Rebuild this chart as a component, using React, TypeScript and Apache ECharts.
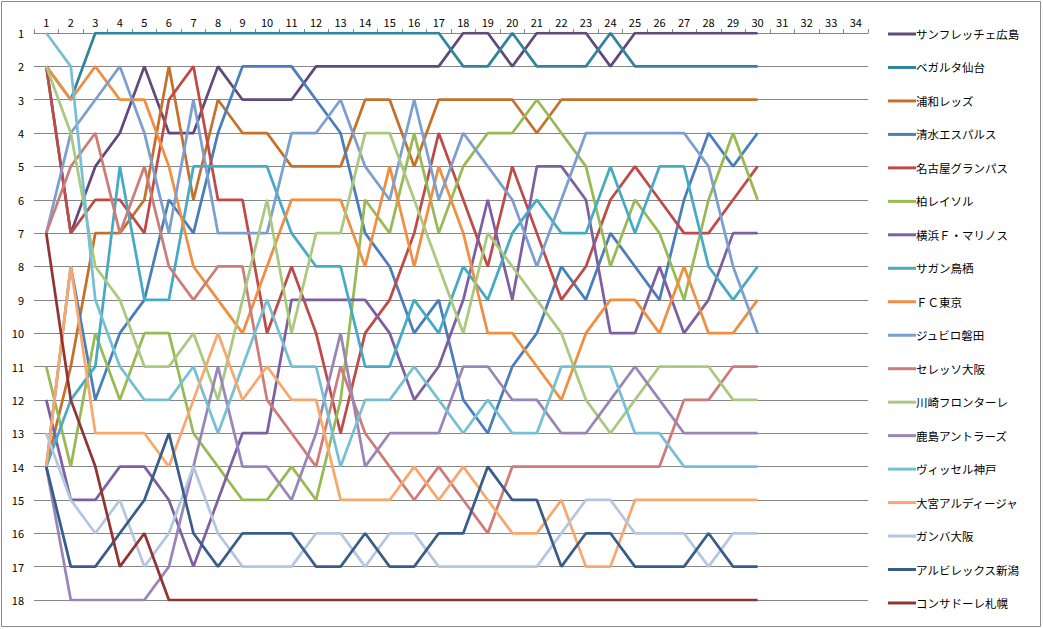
import React, { useEffect, useRef } from "react";
import * as echarts from "echarts";

const rounds = Array.from({ length: 34 }, (_, i) => String(i + 1));
const rankLabels = Array.from({ length: 18 }, (_, i) => i + 1);

const teams = [
  "サンフレッチェ広島",
  "ベガルタ仙台",
  "浦和レッズ",
  "清水エスパルス",
  "名古屋グランパス",
  "柏レイソル",
  "横浜Ｆ・マリノス",
  "サガン鳥栖",
  "ＦＣ東京",
  "ジュビロ磐田",
  "セレッソ大阪",
  "川崎フロンターレ",
  "鹿島アントラーズ",
  "ヴィッセル神戸",
  "大宮アルディージャ",
  "ガンバ大阪",
  "アルビレックス新潟",
  "コンサドーレ札幌",
];

const colors = [
  "#604A7B", "#31849B", "#C5702B", "#4A7EBB", "#BE4B48", "#98B954",
  "#7D60A0", "#46AAC5", "#F08E41", "#7C9FD0", "#CE7C79", "#AAC97E",
  "#9A86B6", "#77C0D4", "#F8A86E", "#B4C6E0", "#385D8A", "#8F3634",
];

const hiroshima = [2,7,5,4,2,4,4,2,3,3,3,2,2,2,2,2,2,1,1,2,1,1,1,2,1,1,1,1,1,1];
const sendai = [2,3,1,1,1,1,1,1,1,1,1,1,1,1,1,1,1,2,2,1,2,2,2,1,2,2,2,2,2,2];
const urawa = [14,11,7,7,6,2,6,3,4,4,5,5,5,3,3,5,3,3,3,3,4,3,3,3,3,3,3,3,3,3];
const shimizu = [14,8,12,10,9,6,7,4,2,2,2,3,4,7,8,10,9,12,13,11,10,8,9,7,8,9,6,4,5,4];
const nagoya = [2,7,6,6,7,3,2,6,6,10,8,10,13,10,9,7,4,6,8,5,7,9,8,6,5,6,7,7,6,5];
const kashiwa = [11,14,10,12,10,10,13,14,15,15,14,15,12,6,7,4,7,5,4,4,3,4,5,8,6,7,9,6,4,6];
const yokohama = [12,15,15,14,14,15,17,15,13,13,9,9,9,9,10,12,11,9,6,9,5,5,6,10,10,8,10,9,7,7];
const sagan = [14,12,11,5,9,9,5,5,5,5,7,8,8,11,11,9,10,8,9,7,6,7,7,5,7,5,5,8,9,8];
const fcTokyo = [2,3,2,3,3,5,8,9,10,8,6,6,6,8,5,8,5,7,10,10,11,12,10,9,9,10,8,10,10,9];
const jubilo = [7,4,3,2,4,7,3,7,7,7,4,4,3,5,6,3,6,4,5,6,8,6,4,4,4,4,4,5,8,10];
const cerezo = [7,5,4,7,5,8,9,8,8,12,13,14,11,13,14,15,14,15,16,14,14,14,14,14,14,14,12,12,11,11];
const kawasaki = [2,4,8,9,11,11,10,12,9,6,10,7,7,4,4,6,8,10,7,8,9,10,12,13,12,11,11,11,12,12];
const kashima = [14,18,18,18,18,17,14,11,14,14,15,13,10,14,13,13,13,11,11,12,12,13,13,12,11,12,13,13,13,13];
const vissel = [1,2,9,11,12,12,11,13,11,9,11,11,14,12,12,11,12,13,12,13,13,11,11,11,13,13,14,14,14,14];
const omiya = [14,8,13,13,13,14,12,10,12,11,12,12,15,15,15,14,15,14,15,16,16,15,17,17,15,15,15,15,15,15];
const gamba = [13,15,16,15,17,16,14,16,17,17,17,16,16,17,16,16,17,17,17,17,17,16,15,15,16,16,16,17,16,16];
const albirex = [14,17,17,16,15,13,16,17,16,16,16,17,17,16,17,17,16,16,14,15,15,17,16,16,17,17,17,16,17,17];
const consadole = [7,12,14,17,16,18,18,18,18,18,18,18,18,18,18,18,18,18,18,18,18,18,18,18,18,18,18,18,18,18];

const seriesValues = [
  hiroshima, sendai, urawa, shimizu, nagoya, kashiwa, yokohama, sagan, fcTokyo,
  jubilo, cerezo, kawasaki, kashima, vissel, omiya, gamba, albirex, consadole,
];

const FONT = "'Noto Sans CJK JP', 'Noto Sans', sans-serif";

export default function App() {
  const ref = useRef<HTMLDivElement>(null);
  useEffect(() => {
    if (!ref.current) return;
    const chart = echarts.init(ref.current, undefined, { renderer: "svg" });
    chart.setOption({
      animation: false,
      backgroundColor: "#ffffff",
      textStyle: { fontFamily: FONT },
      graphic: [
        {
          type: "rect",
          silent: true,
          shape: { x: 1.5, y: 1.5, width: 1039, height: 625 },
          style: { fill: "none", stroke: "#8c8c8c", lineWidth: 1 },
        },
      ],
      grid: { left: 34, right: 175, top: 33, bottom: 29, containLabel: false },
      xAxis: {
        type: "category",
        position: "top",
        data: rounds,
        boundaryGap: true,
        axisLine: { show: true, lineStyle: { color: "#868686", width: 1 } },
        axisTick: { show: true, length: 4, inside: false, lineStyle: { color: "#868686" } },
        axisLabel: { color: "#000", fontSize: 11, margin: 6, fontFamily: FONT, interval: 0 },
        splitLine: { show: false },
      },
      yAxis: {
        type: "value",
        inverse: true,
        min: 1,
        max: 18,
        interval: 1,
        axisLine: { show: false },
        axisTick: { show: false },
        axisLabel: {
          color: "#000",
          fontSize: 11,
          margin: 10,
          fontFamily: FONT,
          formatter: (v: number) => (rankLabels.includes(v) ? String(v) : ""),
        },
        splitLine: { show: true, lineStyle: { color: "#868686", width: 1 } },
      },
      legend: {
        orient: "vertical",
        left: 883,
        top: 22,
        icon: "rect",
        itemWidth: 28,
        itemHeight: 3,
        itemGap: 19.47,
        data: teams,
        textStyle: {
          fontSize: 11.5,
          lineHeight: 14,
          color: "#000",
          fontFamily: FONT,
          padding: [0, 0, 0, -5],
        },
      },
      series: teams.map((name, i) => ({
        name,
        type: "line",
        data: seriesValues[i],
        symbol: "none",
        showSymbol: false,
        color: colors[i],
        lineStyle: { color: colors[i], width: 2.75 },
        itemStyle: { color: colors[i] },
      })),
    });
    return () => chart.dispose();
  }, []);
  return (
    <div
      ref={ref}
      style={{ position: "fixed", left: 0, top: 0, width: 1043, height: 629 }}
    />
  );
}
